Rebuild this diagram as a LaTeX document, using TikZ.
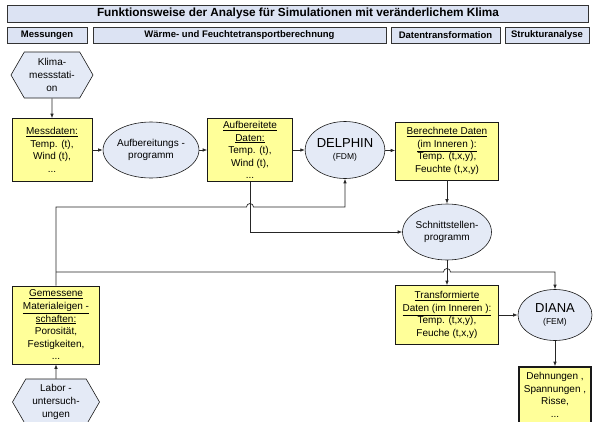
\documentclass[tikz,border=0pt]{standalone}
\usepackage{fontspec}
\setmainfont{Liberation Sans}
\usetikzlibrary{arrows.meta, shapes.geometric, shapes.symbols}
\definecolor{boxyellow}{HTML}{FFFF99}
\definecolor{ellblue}{HTML}{E4EAF6}
\definecolor{headblue}{HTML}{DCE3F3}
\tikzset{>={Latex[length=4.5pt,width=3.5pt]},
  headbox/.style={draw=black!80, line width=0.9pt, fill=headblue, inner sep=0pt,
    font=\bfseries\fontsize{9.5}{10}\selectfont},
  databox/.style={draw=black!90, line width=0.6pt, fill=boxyellow, align=center,
    inner sep=1pt, font=\fontsize{10}{12.6}\selectfont},
  progell/.style={ellipse, draw=black!90, line width=0.6pt, fill=ellblue, align=center,
    inner sep=0pt, font=\fontsize{10}{12.6}\selectfont},
  sourcehex/.style={signal, signal to=east and west, signal pointer angle=120,
    draw=black!90, line width=0.6pt, fill=ellblue, align=center, inner sep=0pt,
    font=\fontsize{10}{12.6}\selectfont},
  flowline/.style={draw=black!85, line width=0.7pt}
}

\begin{document}
\begin{tikzpicture}[x=1pt, y=-1pt]
	\useasboundingbox (0,0) rectangle (595,421);
	% Kopfzeilen
	\node[headbox, minimum width=581pt, minimum height=17pt, font=\bfseries\fontsize{11.8}{12}\selectfont] (title) at (298,13.5) {Funktionsweise der Analyse für Simulationen mit veränderlichem Klima};
	\node[headbox, minimum width=80pt, minimum height=16pt] (hmess) at (47,35) {Messungen};
	\node[headbox, minimum width=293pt, minimum height=16pt] (hwaerme) at (239.5,35) {Wärme- und Feuchtetransportberechnung};
	\node[headbox, minimum width=109pt, minimum height=16pt] (hdaten) at (445.5,35) {Datentransformation};
	\node[headbox, minimum width=84pt, minimum height=16pt] (hstruk) at (547,35) {Strukturanalyse};

	% Knoten
	\node[sourcehex, minimum width=82pt, minimum height=46pt] (klima) at (52,75) {Klima-\\messstati-\\on};
	\node[databox, minimum width=80pt, minimum height=63pt] (messdaten) at (52,150) {\underline{Messdaten:}\\Temp. (t),\\Wind (t),\\...};
	\node[progell, minimum width=91pt, minimum height=56pt] (aufprog) at (151,150) {Aufbereitungs -\\programm};
	\node[databox, minimum width=85pt, minimum height=63pt] (aufdaten) at (250,150) {\underline{Aufbereitete}\\\underline{Daten:}\\Temp. (t),\\Wind (t),\\...};
	\node[progell, minimum width=75pt, minimum height=57pt] (delphin) at (345,150) {{\fontsize{13}{14}\selectfont DELPHIN}\\{\fontsize{8.5}{11}\selectfont (FDM)}};
	\node[databox, minimum width=103pt, minimum height=58pt] (berechnet) at (447,151) {\underline{Berechnete Daten}\\\underline{(im Inneren ):}\\Temp. (t,x,y),\\Feuchte (t,x,y)};
	\node[progell, minimum width=89pt, minimum height=56pt] (schnitt) at (447,232) {Schnittstellen-\\programm};
	\node[databox, minimum width=103pt, minimum height=59pt] (transform) at (447,315) {\underline{Transformierte}\\\underline{Daten (im Inneren ):}\\Temp. (t,x,y),\\Feuche (t,x,y)};
	\node[progell, minimum width=74pt, minimum height=51pt] (diana) at (555,315) {{\fontsize{13}{14}\selectfont DIANA}\\{\fontsize{8.5}{11}\selectfont (FEM)}};
	\node[databox, line width=1.6pt, minimum width=72pt, minimum height=56pt] (dehnung) at (555,395) {Dehnungen ,\\Spannungen ,\\Risse,\\...};
	\node[databox, minimum width=87pt, minimum height=78pt] (gemessen) at (56,325) {\underline{Gemessene}\\\underline{Materialeigen -}\\\underline{schaften:}\\Porosität,\\Festigkeiten,\\...};
	\node[sourcehex, minimum width=87pt, minimum height=46pt] (labor) at (56,402) {Labor -\\untersuch-\\ungen};

	% Verbindungen
	\coordinate (lineA) at (0,207);
	\coordinate (lineB) at (0,272);
	\draw[flowline, ->] (klima) -- (messdaten);
	\draw[flowline, ->] (messdaten) -- (aufprog);
	\draw[flowline, ->] (aufprog) -- (aufdaten);
	\draw[flowline, ->] (aufdaten) -- (delphin);
	\draw[flowline, ->] (delphin) -- (berechnet);
	\draw[flowline, ->] (berechnet) -- (schnitt);
	\draw[flowline, ->] (aufdaten.south) |- (schnitt.west);
	\draw[flowline, ->] (gemessen.north) |- ([xshift=-3.5pt]aufdaten.south |- lineA)
		arc[start angle=180, end angle=0, radius=3.5pt] -| (delphin.south);
	\draw[flowline, ->] (gemessen.north |- lineB) -- ([xshift=-3.5pt]schnitt.south |- lineB)
		arc[start angle=180, end angle=0, radius=3.5pt] -| (diana.north);
	\draw[flowline, ->] (schnitt) -- (transform);
	\draw[flowline, ->] (transform) -- (diana);
	\draw[flowline, ->] (diana) -- (dehnung);
	\draw[flowline, ->] (labor) -- (gemessen);
\end{tikzpicture}
\end{document}
